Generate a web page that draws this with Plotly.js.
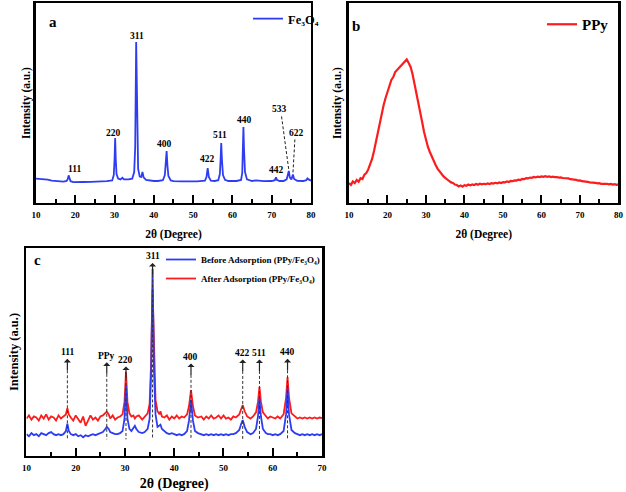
<!DOCTYPE html>
<html><head><meta charset="utf-8">
<script src="https://cdn.plot.ly/plotly-3.0.1.min.js"></script>
<style>html,body{margin:0;padding:0;background:#fff}#chart{width:626px;height:492px}</style>
</head><body><div id="chart"></div>
<script>
// ---------- Panel a : Fe3O4 ----------
const aTheta = [10,11,12,13,14,15,16,17,17.8,18.1,
18.3,18.5,18.8,19.5,20.5,22,24,26,28,29.4,
29.8,30,30.15,30.3,30.5,30.9,31.5,32,32.4,33.5,
34.5,35,35.25,35.5,35.75,36,36.4,36.8,37.1,37.4,
38,39,40,41,42.3,42.8,43.05,43.25,43.45,43.7,
44.3,45,47,49,51,53,53.4,53.7,54,54.5,
55.5,56.4,56.8,57,57.15,57.35,57.6,58.1,59,61,
62.2,62.5,62.7,62.8,62.95,63.2,63.7,65,66,68,
70,70.8,71.1,71.3,72,73,73.8,74.15,74.35,74.6,
75,75.4,75.7,76.5,78,78.8,79.1,79.4,80];
const aIntensity = [12.2,12.0,12.1,11.7,11.2,11.0,10.8,10.7,11.0,12.0,
13.8,12.0,10.9,10.4,10.3,10.5,10.6,10.7,10.9,11.3,
14.0,22.0,32.5,22.0,14.5,12.2,11.8,12.6,11.8,11.8,
12.2,15.5,28.0,80.5,30.0,17.0,13.2,13.0,15.5,12.8,
11.6,11.2,11.0,11.0,11.4,14.0,20.0,26.0,19.0,13.5,
11.3,10.9,10.8,10.8,10.8,11.2,13.0,17.5,13.0,11.2,
11.0,11.4,14.5,22.0,30.0,21.0,14.0,11.6,11.0,11.0,
11.5,15.0,28.0,38.0,27.0,15.5,11.8,11.0,11.3,10.9,
11.0,11.4,12.8,11.6,11.0,11.0,11.8,14.5,16.0,12.8,
11.8,14.2,12.0,11.1,11.0,11.4,12.3,11.8,11.2];
const aPeakNames = ['111','220','311','400','422','511','440','442','533','622'];
const aPeakTheta = [18.3,30.15,35.5,43.25,53.7,57.15,62.8,71.1,74.35,75.4];

// ---------- Panel b : PPy ----------
const bTheta = [10,10.5,11,11.5,12,12.5,13,13.5,14,14.5,15,15.5,16,16.5,17,17.5,18,18.5,19,19.5,
20,20.5,21,21.5,22,22.5,23,23.5,24,24.5,25,25.5,26,26.5,27,27.5,28,28.5,29,29.5,
30,30.5,31,31.5,32,32.5,33,33.5,34,34.5,35,35.5,36,36.5,37,37.5,38,38.5,39,39.5,
40,40.5,41,41.5,42,42.5,43,43.5,44,44.5,45,45.5,46,46.5,47,47.5,48,48.5,49,49.5,
50,50.5,51,51.5,52,52.5,53,53.5,54,54.5,55,55.5,56,56.5,57,57.5,58,58.5,59,59.5,
60,60.5,61,61.5,62,62.5,63,63.5,64,64.5,65,65.5,66,66.5,67,67.5,68,68.5,69,69.5,
70,70.5,71,71.5,72,72.5,73,73.5,74,74.5,75,75.5,76,76.5,77,77.5,78,78.5,79,79.5,80];
const bIntensity = [10.0,9.0,10.8,10.0,11.5,10.6,12.4,12.0,14.2,15.0,16.8,19.0,22.0,26.0,31.0,36.0,40.5,44.5,49.0,52.5,
56.0,58.5,61.5,63.0,65.5,66.5,68.0,68.5,70.0,70.5,71.8,70.0,68.0,64.5,60.0,55.0,50.0,45.0,40.5,35.5,
31.5,28.0,25.5,23.0,21.0,19.0,17.2,15.8,14.6,13.4,12.6,11.6,11.0,10.3,10.0,9.2,9.0,8.3,8.8,8.2,
8.9,8.6,9.2,8.8,9.3,9.0,9.5,9.1,9.6,9.3,9.6,9.4,9.8,9.5,9.9,9.7,10.1,9.8,10.3,10.0,
10.4,10.3,10.8,10.5,11.0,10.9,11.3,11.2,11.7,11.5,12.0,11.9,12.4,12.3,12.7,12.6,13.0,12.8,13.2,13.0,
13.3,13.1,13.4,13.1,13.3,13.0,13.2,12.9,13.0,12.7,12.8,12.5,12.5,12.2,12.3,11.9,11.9,11.6,11.6,11.2,
11.3,10.9,10.9,10.6,10.6,10.3,10.3,10.0,10.1,9.8,9.9,9.6,9.7,9.5,9.6,9.3,9.5,9.2,9.4,9.1,9.3];

// ---------- Panel c : PPy/Fe3O4 before & after adsorption ----------
const cTheta = [10,10.5,11,11.5,12,12.5,13,13.5,14,14.5,
15,15.5,16,16.5,17,17.5,18,18.3,18.6,19,
19.5,20,20.5,21,21.5,22,22.5,23,23.5,24,
24.5,25,25.5,26,26.3,26.7,27,27.5,28,28.5,
29,29.5,29.9,30.2,30.5,30.9,31.3,31.7,32,32.3,
32.8,33.5,34,34.6,35,35.3,35.6,35.9,36.2,36.6,
37,37.2,37.5,38,38.5,39,39.5,40,40.5,41,
41.5,42,42.6,43,43.4,43.8,44.2,44.8,45.5,46,
46.5,47,47.5,48,48.5,49,49.5,50,50.5,51,
51.5,52,52.5,53.2,53.6,53.9,54.3,54.8,55.5,56,
56.6,57,57.3,57.6,58,58.6,59,59.5,60,60.5,
61,61.5,62.2,62.7,63,63.3,63.8,64.5,65,65.5,
66,66.5,67,67.5,68,68.5,69,69.5,70];
const cBefore = [10.5,9.5,11,10,10.5,9.5,11,10.5,10,11,
11.5,10.5,10,10.5,10,10.5,12,15.5,12,10.5,
10,10.5,9.5,10,9,10,9.5,10,10.5,10,
10.5,11,11.5,13,14,13,11.5,11,10.5,10.5,
11,12,18,34,18,13,12,13.5,14.5,13,
11.5,11,11.5,13,18,40,90,40,20,14,
14.5,15,13,12,11,10.5,11,10.5,10,10.5,
10,10.5,12,17,27,17,12,11,10.5,10,
10.5,10,10.5,10,10.5,10,10.5,10,10.5,10,
10.5,10.5,11,12.5,15.5,17.3,14,11.5,10.5,11,
13,19,27.7,19,13,11,10.5,10.5,10,10.5,
10,10.5,12,20,32.5,20,12.5,11,10.5,10,
10.5,10,10.5,10,10.5,10,10.5,10,10.5];
const cAfter = [18.0,19.5,17.5,19.0,18.5,17.0,19.5,18.0,20.0,17.5,
19.0,18.5,17.0,19.5,18.0,19.0,20.0,23.0,20.0,18.5,
17.0,19.5,17.5,16.0,19.0,14.5,17.0,19.5,17.5,18.5,
17.0,19.0,19.5,20.5,21.3,20.0,18.0,19.5,17.5,18.5,
19.0,20.0,26,40.5,26,20.5,19.0,19.5,18.0,19.0,
19.5,17.5,19.0,20.5,25,45,80,45,27,21.5,
20.0,21.5,19.0,18.5,19.5,17.5,19.0,18.0,19.5,18.0,
19.0,18.5,20.0,24,31.7,24,19.5,18.5,19.0,17.5,
19.0,18.0,19.5,18.0,18.5,19.5,18.0,19.5,18.0,18.5,
17.5,19.0,18.5,20,23,24.5,21.5,19.0,18.0,19.0,
21,26,33.3,26,21,19.0,18.0,19.0,18.5,18.0,
19.0,18.0,20,28,38,28,20.5,19.0,18.0,18.5,
18.0,18.5,18.0,18.5,18.0,18.5,18.0,18.5,18.2];
const cPeakNames = ['111','PPy','220','311','400','422','511','440'];
const cPeakTheta = [18.3,26.3,30.2,35.6,43.4,53.9,57.3,63.0];

// ---------- layout helpers (positions / styles) ----------
const FONT = 'Liberation Serif, Times New Roman, serif';
const BLUE = '#2e3df2', RED = '#fb1d1d';
const aLabelPos = [[19.9,17],[29.7,35],[35.7,83.5],[42.8,29.5],[53.7,22],[56.9,34],[63.0,41.5],[71.2,16.7],[72.1,47],[76.4,35]];
const aLeaderStart = {8:[72.5,43.3], 9:[75.9,31.8]};
const cLabelY = [49.7,48,46,95.8,47.5,49.4,49.4,49.7];

function xAxis(domain, anchor, range) {
  return {domain, anchor, range, showline:true, linewidth:2.5, linecolor:'#000', mirror:true,
    ticks:'inside', ticklen:8, tickwidth:2, tickcolor:'#000', dtick:10, tick0:0,
    minor:{ticks:'inside', ticklen:4, tickwidth:2, dtick:5, tickcolor:'#000'},
    showgrid:false, zeroline:false, automargin:false, ticklabelstandoff:2,
    tickfont:{size:9, family:FONT, weight:700, color:'#000'}};
}
function yAxis(domain, anchor) {
  return {domain, anchor, range:[0,100], showline:true, linewidth:2.5, linecolor:'#000', mirror:true,
    ticks:'', showticklabels:false, showgrid:false, zeroline:false, automargin:false};
}
const tFont = (s)=>({size:s, family:FONT, weight:700, color:'#000'});

const xa = xAxis([0.0575,0.4968],'y',[10,80]);
xa.title = {text:'2θ (Degree)', font:tFont(11.5), standoff:11};
const ya = yAxis([0.5874,0.9939],'x');
ya.title = {text:'Intensity (a.u.)', font:tFont(11.5), standoff:1};
const xb = xAxis([0.5575,0.988],'y2',[10,80]);
xb.title = {text:'2θ (Degree)', font:tFont(11.5), standoff:11};
const yb = yAxis([0.5874,0.9939],'x2');
yb.title = {text:'Intensity (a.u.)', font:tFont(11.5), standoff:3};
const xc = xAxis([0.0423,0.5144],'y3',[10,70]);
xc.title = {text:'2θ (Degree)', font:tFont(14), standoff:8};
const yc = yAxis([0.0732,0.4959],'x3');
yc.title = {text:'Intensity (a.u.)', font:tFont(12.5), standoff:3};

const traces = [
  {x:aTheta, y:aIntensity, xaxis:'x', yaxis:'y', mode:'lines', name:'Fe₃O₄',
   line:{color:BLUE, width:1.8}, legend:'legend'},
  {x:bTheta, y:bIntensity, xaxis:'x2', yaxis:'y2', mode:'lines', name:'PPy',
   line:{color:RED, width:2.2}, legend:'legend2'},
  {x:cTheta, y:cAfter, xaxis:'x3', yaxis:'y3', mode:'lines', name:'After Adsorption (PPy/Fe₃O₄)',
   line:{color:RED, width:1.8}, legend:'legend3', legendrank:2},
  {x:cTheta, y:cBefore, xaxis:'x3', yaxis:'y3', mode:'lines', name:'Before Adsorption (PPy/Fe₃O₄)',
   line:{color:BLUE, width:1.8}, legend:'legend3', legendrank:1}
];

const annFont = {family:FONT, size:9.5, weight:700, color:'#000'};
const annotations = [];
const shapes = [];
// panel letters
annotations.push({xref:'paper', yref:'paper', x:47/626, y:1-12/492, text:'a', showarrow:false, font:tFont(15)});
annotations.push({xref:'paper', yref:'paper', x:356/626, y:1-16/492, text:'b', showarrow:false, font:tFont(15)});
annotations.push({xref:'paper', yref:'paper', x:32/626, y:1-260/492, text:'c', showarrow:false, font:tFont(15)});

// panel a labels (533 / 622 get dashed leaders to their peaks)
aPeakNames.forEach((n,i)=>{
  annotations.push({xref:'x', yref:'y', x:aLabelPos[i][0], y:aLabelPos[i][1], text:n, showarrow:false, font:annFont});
  if (aLeaderStart[i]) {
    const tipY = aIntensity[aTheta.indexOf(aPeakTheta[i])] + 0.5;
    shapes.push({type:'line', xref:'x', yref:'y', x0:aLeaderStart[i][0], y0:aLeaderStart[i][1], x1:aPeakTheta[i], y1:tipY,
      line:{color:'#222', width:1, dash:'3px,2px'}});
  }
});

// panel c labels with upward arrows, and dashed guide lines
cPeakNames.forEach((n,i)=>{
  const foot = cLabelY[i]-8.5;
  annotations.push({xref:'x3', yref:'y3', x:cPeakTheta[i], y:foot, ax:0, ay:-18, text:n, showarrow:true,
    arrowside:'start', arrowhead:2, arrowsize:0.9, arrowwidth:1.2, arrowcolor:'#222', startstandoff:0,
    font:annFont});
  shapes.push({type:'line', xref:'x3', yref:'y3', x0:cPeakTheta[i], y0:foot, x1:cPeakTheta[i], y1:8,
    line:{color:'#333', width:1, dash:'3px,2px'}, layer:'above'});
});

const legBase = {bgcolor:'rgba(0,0,0,0)', borderwidth:0, xanchor:'left', yanchor:'top'};
const layout = {
  width:626, height:492, margin:{l:0,r:0,t:0,b:0}, paper_bgcolor:'#fff', plot_bgcolor:'#fff',
  font:{family:FONT, weight:700, color:'#000'},
  showlegend:true,
  xaxis:xa, yaxis:ya, xaxis2:xb, yaxis2:yb, xaxis3:xc, yaxis3:yc,
  legend:Object.assign({}, legBase, {x:248/626, y:1-4/492, font:tFont(12.5)}),
  legend2:Object.assign({}, legBase, {x:542/626, y:1-8/492, font:tFont(15)}),
  legend3:Object.assign({}, legBase, {x:161/626, y:1-245/492, font:tFont(9)}),
  annotations, shapes
};
Plotly.newPlot('chart', traces, layout, {staticPlot:true, displayModeBar:false});
</script>
</body></html>
